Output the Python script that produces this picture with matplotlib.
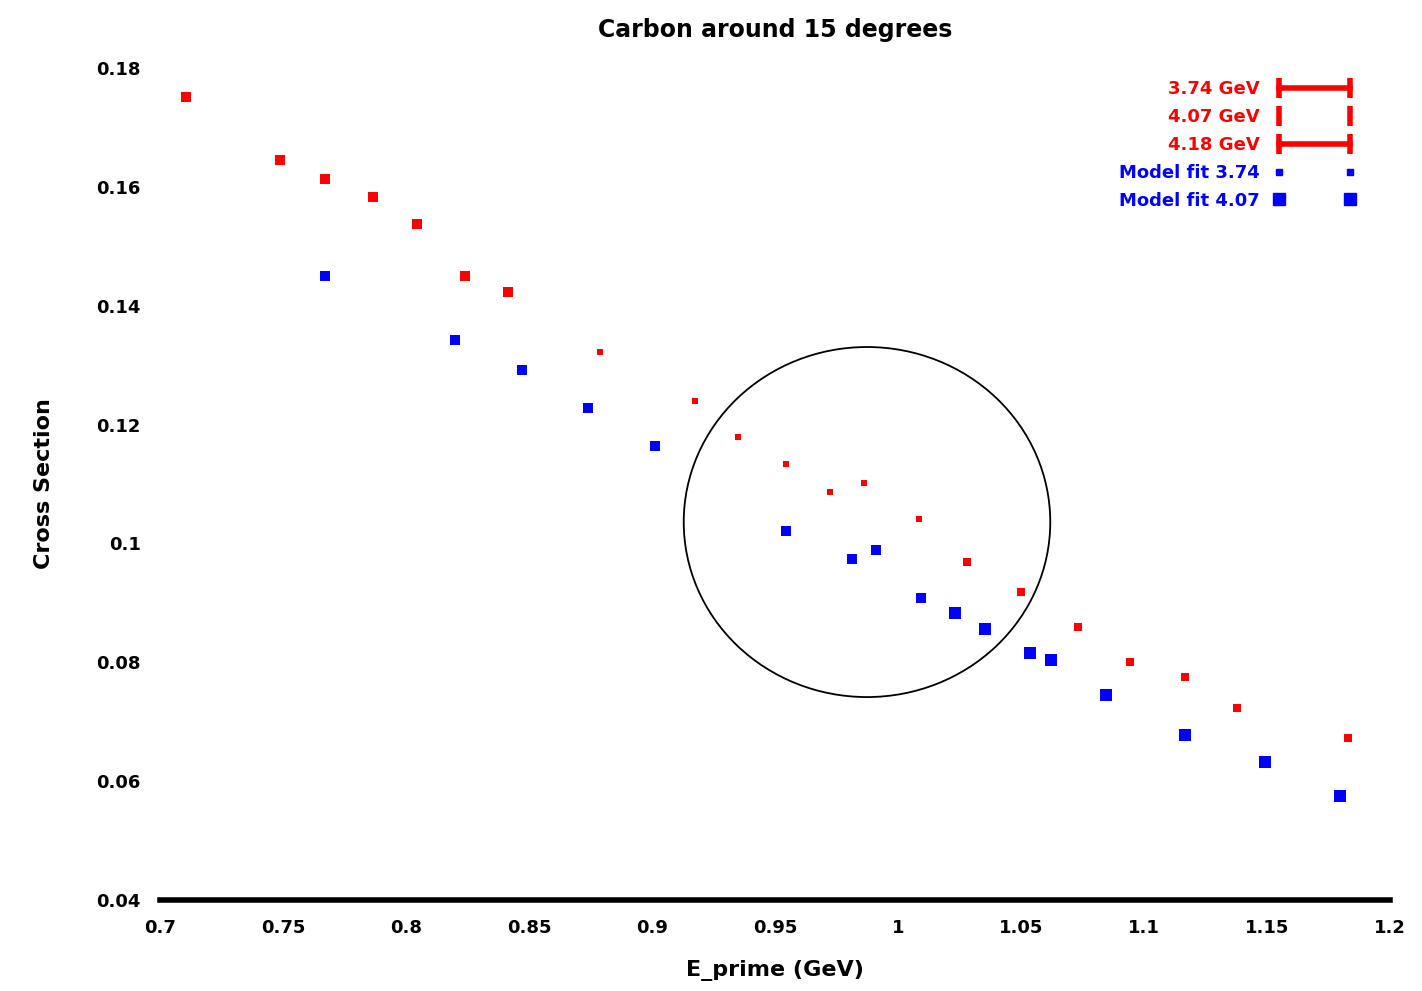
import matplotlib.pyplot as plt
from matplotlib.lines import Line2D
from matplotlib.patches import Ellipse

# red series (E_prime, value)
red_labels = ["3.74 GeV", "4.07 GeV", "4.18 GeV"]
red_x = [
    [0.7105, 0.7486, 0.7672, 0.7866, 0.8045, 0.8239, 0.8413],
    [0.8789, 0.9174, 0.9348, 0.9543, 0.9725, 0.9862, 1.0085],
    [1.0279, 1.0498, 1.0733, 1.0943, 1.1166, 1.1377, 1.1830],
]
red_y = [
    [0.1751, 0.1645, 0.1613, 0.1583, 0.1537, 0.1450, 0.1423],
    [0.1322, 0.1240, 0.1179, 0.1134, 0.1087, 0.1102, 0.1041],
    [0.0969, 0.0918, 0.0859, 0.0800, 0.0775, 0.0723, 0.0673],
]
red_sizes = [7, 5, 6]

blue_labels = ["Model fit 3.74", "Model fit 4.07"]
blue_x = [
    [0.7672, 0.8198, 0.8470, 0.8741, 0.9012, 0.9543, 0.9814, 0.9911, 1.0093],
    [1.0231, 1.0352, 1.0538, 1.0623, 1.0846, 1.1166, 1.1490, 1.1798],
]
blue_y = [
    [0.1450, 0.1342, 0.1292, 0.1228, 0.1164, 0.1021, 0.0974, 0.0989, 0.0908],
    [0.0883, 0.0856, 0.0816, 0.0804, 0.0745, 0.0678, 0.0632, 0.0575],
]
blue_sizes = [7, 8]

xticks = [0.7, 0.75, 0.8, 0.85, 0.9, 0.95, 1, 1.05, 1.1, 1.15, 1.2]
yticks = [0.04, 0.06, 0.08, 0.1, 0.12, 0.14, 0.16, 0.18]

fig = plt.figure(figsize=(14.22, 9.91), dpi=100)
ax = fig.add_axes([0.1125, 0.0918, 0.865, 0.8396])

for xs, ys, ms in zip(red_x, red_y, red_sizes):
    ax.plot(xs, ys, "s", color="red", markersize=ms, markeredgewidth=0)
for xs, ys, ms in zip(blue_x, blue_y, blue_sizes):
    ax.plot(xs, ys, "s", color="blue", markersize=ms, markeredgewidth=0)

ax.add_patch(Ellipse((0.9874, 0.1036), 0.149, 0.0589, fill=False,
                     edgecolor="black", linewidth=1.3))

ax.set_xlim(0.7, 1.2)
ax.set_ylim(0.04, 0.18)
ax.set_xticks(xticks)
ax.set_xticklabels([f"{v:g}" for v in xticks])
ax.set_yticks(yticks)
ax.set_yticklabels([f"{v:g}" for v in yticks])
for s in ["top", "left", "right"]:
    ax.spines[s].set_visible(False)
ax.spines["bottom"].set_linewidth(4)
ax.tick_params(axis="both", length=0, labelsize=13, pad=14)
for lbl in ax.get_xticklabels() + ax.get_yticklabels():
    lbl.set_fontweight("bold")

ax.set_title("Carbon around 15 degrees", fontsize=17, fontweight="bold", pad=22)
ax.set_xlabel("E_prime (GeV)", fontsize=16, fontweight="bold", labelpad=16)
ax.set_ylabel("Cross Section", fontsize=16, fontweight="bold", labelpad=30)

handles = [
    Line2D([], [], color="red", linestyle="-", linewidth=4, marker="|", markersize=14, markeredgewidth=4),
    Line2D([], [], color="red", linestyle="none", marker="|", markersize=14, markeredgewidth=4),
    Line2D([], [], color="red", linestyle="-", linewidth=4, marker="|", markersize=14, markeredgewidth=4),
    Line2D([], [], color="blue", linestyle="none", marker="s", markersize=5),
    Line2D([], [], color="blue", linestyle="none", marker="s", markersize=8),
]
leg = ax.legend(handles, red_labels + blue_labels, loc="upper right",
                bbox_to_anchor=(0.985, 1.005), frameon=False, markerfirst=False,
                labelcolor=["red", "red", "red", "blue", "blue"],
                prop={"weight": "bold", "size": 13}, handlelength=4.5,
                labelspacing=0.55, numpoints=2)

fig.savefig("out.png", dpi=100)
